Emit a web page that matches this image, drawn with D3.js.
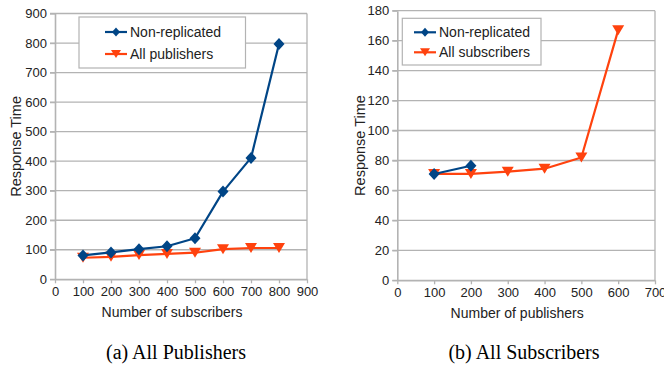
<!DOCTYPE html>
<html>
<head>
<meta charset="utf-8">
<script src="https://cdn.jsdelivr.net/npm/d3@7"></script>
<style>
  body { margin: 0; background: #fff; }
  text { font-family: "Liberation Sans", Arial, sans-serif; fill: #222; }
</style>
</head>
<body>
<svg id="chart" width="664" height="366"></svg>
<script>
// panel (a)
var subsX = [100, 200, 300, 400, 500, 600, 700, 800];
var nonRepA = [81, 91, 102, 112, 139, 297, 411, 797];
var allPubs = [73, 76, 82, 86, 90, 102, 106, 106];
var ticksXA = [0, 100, 200, 300, 400, 500, 600, 700, 800, 900];
var ticksYA = [0, 100, 200, 300, 400, 500, 600, 700, 800, 900];

// panel (b)
var pubsXNon = [100, 200];
var nonRepB = [71, 76.5];
var pubsX = [100, 200, 300, 400, 500, 600];
var allSubs = [71, 71, 72.5, 74.5, 82, 167];
var ticksXB = [0, 100, 200, 300, 400, 500, 600, 700];
var ticksYB = [0, 20, 40, 60, 80, 100, 120, 140, 160, 180];

var blue = "#004586", orange = "#ff420e", grid = "#b3b3b3";

var svg = d3.select("#chart");

function panel(cfg) {
  var x = d3.scaleLinear().domain(cfg.xDomain).range([cfg.left, cfg.right]);
  var y = d3.scaleLinear().domain(cfg.yDomain).range([cfg.bottom, cfg.top]);
  var g = svg.append("g");

  // gridlines
  g.append("g").selectAll("line")
    .data(cfg.yTicks)
    .join("line")
      .attr("x1", cfg.left - 5).attr("x2", cfg.right)
      .attr("y1", d => y(d)).attr("y2", d => y(d))
      .attr("stroke", grid).attr("stroke-width", 1.3);

  // right border + axes
  g.append("line")
    .attr("x1", cfg.right).attr("x2", cfg.right)
    .attr("y1", cfg.top).attr("y2", cfg.bottom)
    .attr("stroke", grid).attr("stroke-width", 1.3);

  var gx = g.append("g")
    .attr("transform", "translate(0," + cfg.bottom + ")")
    .call(d3.axisBottom(x).tickValues(cfg.xTicks).tickSize(4).tickPadding(3).tickSizeOuter(0));
  var gy = g.append("g")
    .attr("transform", "translate(" + cfg.left + ",0)")
    .call(d3.axisLeft(y).tickValues(cfg.yTicks).tickSize(5).tickPadding(3).tickSizeOuter(0));
  [gx, gy].forEach(function(a) {
    a.select(".domain").attr("stroke", grid).attr("stroke-width", 1.6);
    a.selectAll(".tick line").attr("stroke", grid).attr("stroke-width", 1.3);
    a.selectAll(".tick text")
      .attr("fill", "#222")
      .style("font-family", "Liberation Sans, Arial, sans-serif")
      .style("font-size", "13px");
  });

  // axis titles (sit a bit left of the plot centre, as in the original)
  g.append("text")
    .attr("x", (cfg.left + cfg.right) / 2 - 9)
    .attr("y", cfg.bottom + 38)
    .attr("text-anchor", "middle")
    .style("font-size", "14px")
    .text(cfg.xTitle);
  g.append("text")
    .attr("transform", "translate(" + cfg.yTitleX + "," + ((cfg.top + cfg.bottom) / 2) + ") rotate(-90)")
    .attr("text-anchor", "middle")
    .attr("dy", "0.35em")
    .style("font-size", "14.5px")
    .text("Response Time");

  var line = d3.line().x(d => x(d[0])).y(d => y(d[1]));

  // series: orange drawn first, blue on top
  cfg.series.slice().reverse().forEach(function(s) {
    var pts = d3.zip(s.xs, s.ys);
    g.append("path")
      .datum(pts)
      .attr("fill", "none")
      .attr("stroke", s.color)
      .attr("stroke-width", 2.2)
      .attr("stroke-linejoin", "round")
      .attr("d", line);
    g.append("g").selectAll("path")
      .data(pts)
      .join("path")
        .attr("transform", d => "translate(" + x(d[0]) + "," + y(d[1]) + ")")
        .attr("d", s.marker)
        .attr("fill", s.color);
  });

  // legend
  var lg = g.append("g");
  lg.append("rect")
    .attr("x", cfg.legend.x).attr("y", cfg.legend.y)
    .attr("width", cfg.legend.w).attr("height", cfg.legend.h)
    .attr("fill", "#fff").attr("stroke", grid).attr("stroke-width", 1.2);
  cfg.series.forEach(function(s, i) {
    var ly = cfg.legend.rowY[i];
    lg.append("line")
      .attr("x1", cfg.legend.sx).attr("x2", cfg.legend.sx + 22)
      .attr("y1", ly).attr("y2", ly)
      .attr("stroke", s.color).attr("stroke-width", 2.2);
    lg.append("path")
      .attr("transform", "translate(" + (cfg.legend.sx + 11) + "," + ly + ")")
      .attr("d", s.legendMarker)
      .attr("fill", s.color);
    lg.append("text")
      .attr("x", cfg.legend.sx + 25)
      .attr("y", ly)
      .attr("dy", "0.36em")
      .style("font-size", "14px")
      .text(s.name);
  });

  // caption
  svg.append("text")
    .attr("x", cfg.capX)
    .attr("y", 359)
    .attr("text-anchor", "middle")
    .style("font-family", "Liberation Serif, Times New Roman, serif")
    .style("font-size", "20px")
    .style("fill", "#000")
    .text(cfg.caption);
}

var diamond = "M0,-6L5.5,0L0,6L-5.5,0Z";
var tri = "M-6,-5L6,-5L0,5Z";
var diamondS = "M0,-4.5L4,0L0,4.5L-4,0Z";
var triS = "M-5,-4L5,-4L0,4Z";

panel({
  left: 55, right: 307, top: 13.5, bottom: 279.3,
  xDomain: [0, 900], yDomain: [0, 900],
  xTicks: ticksXA, yTicks: ticksYA,
  xTitle: "Number of subscribers", yTitleX: 16,
  series: [
    {name: "Non-replicated", xs: subsX, ys: nonRepA, color: blue, marker: diamond, legendMarker: diamondS},
    {name: "All publishers", xs: subsX, ys: allPubs, color: orange, marker: tri, legendMarker: triS}
  ],
  legend: {x: 79, y: 17, w: 166.5, h: 51, rowY: [32, 54], sx: 105},
  caption: "(a) All Publishers", capX: 176
});

panel({
  left: 397.3, right: 655, top: 10.7, bottom: 280.3,
  xDomain: [0, 700], yDomain: [0, 180],
  xTicks: ticksXB, yTicks: ticksYB,
  xTitle: "Number of publishers", yTitleX: 360,
  series: [
    {name: "Non-replicated", xs: pubsXNon, ys: nonRepB, color: blue, marker: diamond, legendMarker: diamondS},
    {name: "All subscribers", xs: pubsX, ys: allSubs, color: orange, marker: tri, legendMarker: triS}
  ],
  legend: {x: 402.3, y: 18.3, w: 138.7, h: 46.7, rowY: [32.3, 52.3], sx: 414},
  caption: "(b) All Subscribers", capX: 524
});
</script>
</body>
</html>
